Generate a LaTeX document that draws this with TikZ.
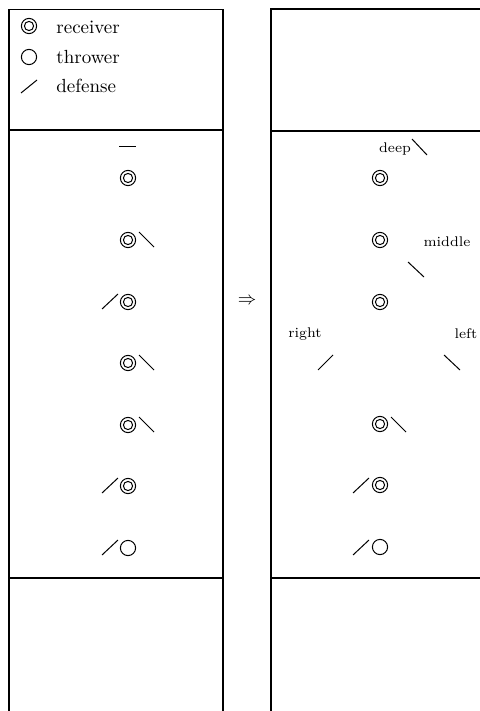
\documentclass[tikz,border=0pt]{standalone}
\begin{document}
\begin{tikzpicture}[x=0.5pt,y=-0.5pt,
  recv/.style={circle,draw,line width=0.5pt,minimum size=7.6pt,inner sep=0pt,
    path picture={\draw[line width=0.5pt] (path picture bounding box.center) circle (2.3pt);}},
  thro/.style={circle,draw,line width=0.5pt,minimum size=7.6pt,inner sep=0pt},
  def/.style={line width=0.5pt},
  field/.style={line width=0.55pt},
  leg/.style={anchor=west,inner sep=0pt,font=\fontsize{9.5}{11}\selectfont},
  lab/.style={inner sep=0pt,font=\fontsize{7}{8}\selectfont}]
\useasboundingbox (0,0) rectangle (480,711);
% fields
\draw[field] (9,711) -- (9,9.5) -- (223,9.5) -- (223,711);
\draw[field] (9,130) -- (223,130);
\draw[field] (9,578) -- (223,578);
\draw[field] (271,711) -- (271,9) -- (480,9);
\draw[field] (271,131) -- (480,131);
\draw[field] (271,578) -- (480,578);
% legend
\node[recv] (lr) at (29,26) {};
\node[thro] (lt) at (29,57) {};
\draw[def] (21,93) -- (37,80);
\node[leg] (lrt) at (56,27) {receiver};
\node[leg] (ltt) at (56,57) {thrower};
\node[leg] (ldt) at (56,86) {defense};
% left field
\draw[def] (119,147) -- (136,147);
\node[recv] (a1) at (128,178) {};
\node[recv] (a2) at (128,240) {};
\draw[def] (139,232) -- (154,247);
\node[recv] (a3) at (128,302) {};
\draw[def] (102,309) -- (118,294);
\node[recv] (a4) at (128,363) {};
\draw[def] (139,355) -- (154,370);
\node[recv] (a5) at (128,425) {};
\draw[def] (139,417) -- (154,432);
\node[recv] (a6) at (128,486) {};
\draw[def] (102,493) -- (118,478);
\node[thro] (a7) at (128,548) {};
\draw[def] (102,555) -- (118,540);
% arrow
\node[inner sep=0pt,font=\fontsize{9.5}{11}\selectfont] (arr) at (247,301) {$\Rightarrow$};
% right field
\node[lab] (deep) at (395,149) {deep};
\draw[def] (412,139) -- (427,155);
\node[recv] (b1) at (380,178) {};
\node[recv] (b2) at (380,240) {};
\node[lab] (mid) at (447,242) {middle};
\draw[def] (408,262) -- (424,277);
\node[recv] (b3) at (380,302) {};
\node[lab] (rgt) at (305,334) {right};
\node[lab] (lft) at (466,334) {left};
\draw[def] (318,370) -- (333,355);
\draw[def] (444,355) -- (460,370);
\node[recv] (b4) at (380,424) {};
\draw[def] (391,417) -- (406,432);
\node[recv] (b5) at (380,485) {};
\draw[def] (353,493) -- (369,478);
\node[thro] (b6) at (380,547) {};
\draw[def] (353,555) -- (369,540);
\end{tikzpicture}
\end{document}
